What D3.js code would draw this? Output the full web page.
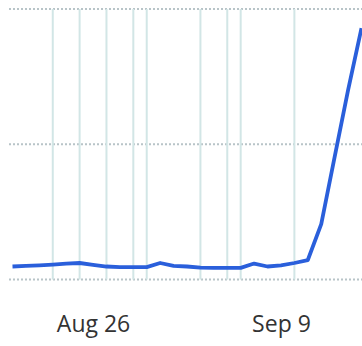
<!DOCTYPE html>
<html>
<head>
<meta charset="utf-8">
<script src="https://cdn.jsdelivr.net/npm/d3@7"></script>
<style>
html,body{margin:0;padding:0;background:#fff;}
svg{display:block;}
</style>
</head>
<body>
<svg id="chart" width="362" height="346"></svg>
<script>
const dates = ["2019-08-20","2019-08-21","2019-08-22","2019-08-23","2019-08-24","2019-08-25","2019-08-26","2019-08-27","2019-08-28","2019-08-29","2019-08-30","2019-08-31","2019-09-01","2019-09-02","2019-09-03","2019-09-04","2019-09-05","2019-09-06","2019-09-07","2019-09-08","2019-09-09","2019-09-10","2019-09-11","2019-09-12","2019-09-13","2019-09-14","2019-09-15"];
const values = [48,50,52,55,59,61,54,48,46,46,46,61,50,48,44,43,43,43,59,48,52,61,72,205,453,700,929];
const eventDates = ["2019-08-23","2019-08-25","2019-08-27","2019-08-29","2019-08-30","2019-09-03","2019-09-05","2019-09-06","2019-09-10"];
const yTicks = [0,500,1000];
const xTickDates = ["2019-08-26","2019-09-09"];
const xTickLabels = ["Aug 26","Sep 9"];

const parse = d3.utcParse("%Y-%m-%d");
const data = dates.map((d,i)=>({date:parse(d), value:values[i]}));

const svg = d3.select("#chart");
const x = d3.scaleUtc().domain([parse(dates[0]), parse(dates[dates.length-1])]).range([12.5, 361.5]);
const y = d3.scaleLinear().domain([0,1000]).range([279.5, 9]);

// horizontal dotted gridlines
svg.append("g").selectAll("line").data(yTicks).join("line")
  .attr("x1", 9).attr("x2", 362)
  .attr("y1", d=>y(d)).attr("y2", d=>y(d))
  .attr("stroke", "#b8c4c8").attr("stroke-width", 2)
  .attr("stroke-dasharray", "2,2");

// event vertical lines
svg.append("g").selectAll("line").data(eventDates).join("line")
  .attr("x1", d=>x(parse(d))).attr("x2", d=>x(parse(d)))
  .attr("y1", y(1000)).attr("y2", y(0))
  .attr("stroke", "#d2e6e6").attr("stroke-width", 2);

// line
const line = d3.line().x(d=>x(d.date)).y(d=>y(d.value));
svg.append("path").datum(data)
  .attr("d", line)
  .attr("fill","none")
  .attr("stroke","#2a5fdb")
  .attr("stroke-width",3.8)
  .attr("stroke-linejoin","round");

// x axis labels
const xAxis = d3.axisBottom(x)
  .tickValues(xTickDates.map(parse))
  .tickFormat((d,i)=>xTickLabels[i])
  .tickSize(0).tickPadding(0);
const gx = svg.append("g").attr("transform","translate(0,307)").call(xAxis);
gx.select(".domain").remove();
gx.selectAll("text")
  .attr("dy","0")
  .attr("y", 25)
  .attr("fill","#333")
  .style("font-family","'Open Sans', sans-serif")
  .style("font-size","23px");
</script>
</body>
</html>
